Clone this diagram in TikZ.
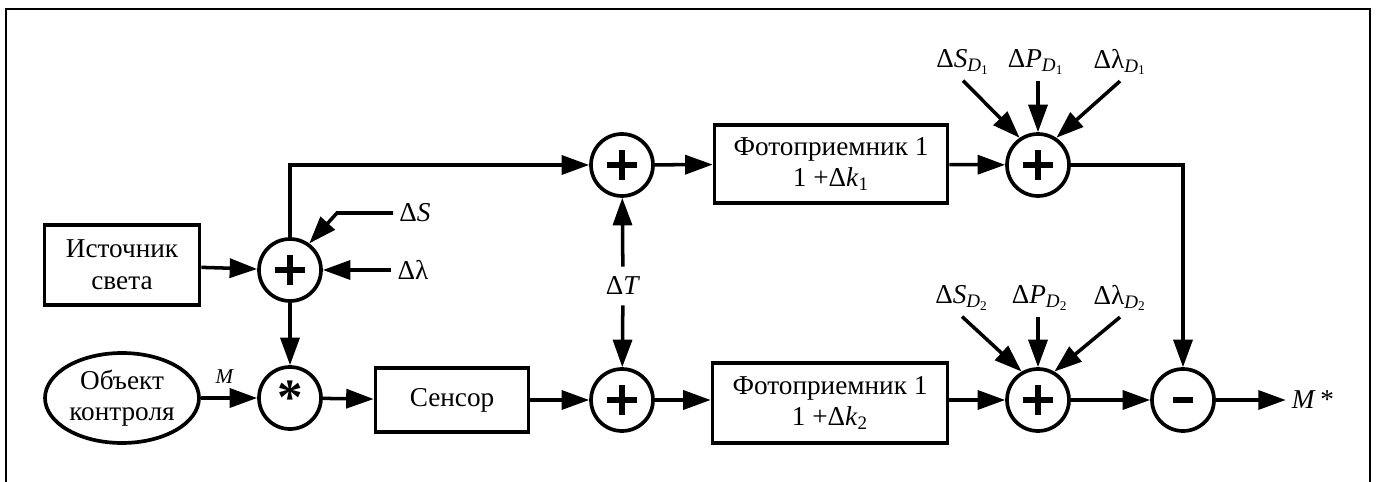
\documentclass[tikz,border=0pt]{standalone}
\usepackage{fontspec}
\setmainfont{Liberation Serif}
\usetikzlibrary{arrows.meta,shapes.geometric}

\begin{document}
\begin{tikzpicture}[x=0.02cm,y=-0.02cm,
  every node/.style={font=\fontsize{15.5}{18}\selectfont},
  blk/.style={draw,rectangle,line width=2.1pt,align=center,inner sep=0pt},
  sumc/.style={draw,circle,line width=2.1pt,minimum size=1.24cm,inner sep=0pt},
  plus/.style={sumc,path picture={
    \draw[line width=2.9pt] (path picture bounding box.center) +(-0.3cm,0) -- +(0.3cm,0)
      (path picture bounding box.center) +(0,-0.3cm) -- +(0,0.3cm);}},
  minus/.style={sumc,path picture={
    \draw[line width=3.3pt] (path picture bounding box.center) +(-0.2cm,0) -- +(0.2cm,0);}},
  arr/.style={line width=2pt,-{Triangle[length=5.5mm,width=3.8mm]}}]
  %%%%% FRAME %%%%%
  \useasboundingbox (0,0) rectangle (1379,482);
  \draw[line width=0.9pt] (6,482) -- (6,9) -- (1370,9) -- (1370,482);

  %%%%% BLOCKS %%%%%
  \node[blk,minimum width=3.1cm,minimum height=1.6cm] (src) at (122,265) {Источник\\света};
  \node[draw,ellipse,line width=2.1pt,inner sep=0pt,align=center,
        minimum width=3.08cm,minimum height=1.8cm] (obj) at (122,398) {Объект\\контроля};
  \node[plus] (s1) at (290,270) {};
  \node[sumc] (mul) at (290,398) {\raisebox{-0.32em}{\fontsize{29}{29}\selectfont\bfseries *}};
  \node[blk,minimum width=3.06cm,minimum height=1.28cm] (sen) at (452,400) {Сенсор};
  \node[plus] (s2) at (622,165) {};
  \node[plus] (s3) at (622,400) {};
  \node[blk,minimum width=4.66cm,minimum height=1.56cm] (pd1) at (831,164)
    {Фотоприемник 1\\1 +Δ\textit{k}\textsubscript{1}};
  \node[blk,minimum width=4.7cm,minimum height=1.6cm] (pd2) at (830,403)
    {Фотоприемник 1\\1 +Δ\textit{k}\textsubscript{2}};
  \node[plus] (d1) at (1038,165) {};
  \node[plus] (d2) at (1038,400) {};
  \node[minus] (mn) at (1183,400) {};

  %%%%% LABELS %%%%%
  \node (lS) at (415,213) {Δ\textit{S}};
  \node (lL) at (413,270) {Δλ};
  \node[font=\fontsize{12}{14}\selectfont] (lM) at (225,377) {\textit{M}};
  \node[inner sep=0pt,minimum height=0.76cm] (dT) at (623,286) {Δ\textit{T}};
  \node (lSD1) at (963,62) {Δ\textit{S}\textsubscript{\textit{D}\textsubscript{1}}};
  \node (lPD1) at (1036,62) {Δ\textit{P}\textsubscript{\textit{D}\textsubscript{1}}};
  \node (lLD1) at (1120,62) {Δλ\textsubscript{\textit{D}\textsubscript{1}}};
  \node (lSD2) at (962,298) {Δ\textit{S}\textsubscript{\textit{D}\textsubscript{2}}};
  \node (lPD2) at (1040,298) {Δ\textit{P}\textsubscript{\textit{D}\textsubscript{2}}};
  \node (lLD2) at (1120,298) {Δλ\textsubscript{\textit{D}\textsubscript{2}}};
  \node (lMo) at (1313,400) {\textit{M}\,*};
  \coordinate (kS) at (337,213);

  %%%%% CONNECTORS %%%%%
  \draw[arr] (src) -- (s1);
  \draw[arr] (lS.west) -- (kS) -- (s1.54);
  \draw[arr] (lL) -- (s1);
  \draw[arr] (s1.north) |- (s2);
  \draw[arr] (s1) -- (mul);
  \draw[arr] (obj) -- (mul);
  \draw[arr] (mul) -- (sen);
  \draw[arr] (sen) -- (s3);
  \draw[arr] (dT) -- (s2);
  \draw[arr] (dT) -- (s3);
  \draw[arr] (s2) -- (pd1);
  \draw[arr] (s3) -- (s3 -| pd2.west);
  \draw[arr] (pd1) -- (d1);
  \draw[arr] (pd2.east |- d2) -- (d2);
  \draw[arr] (lSD1.south) -- (d1.124);
  \draw[arr] (lPD1.south -| d1) -- (d1);
  \draw[arr] (lLD1.south) -- (d1.56);
  \draw[arr] (lSD2.south) -- (d2.120);
  \draw[arr] (lPD2.south -| d2) -- (d2);
  \draw[arr] (lLD2.south) -- (d2.60);
  \draw[arr] (d1) -| (mn);
  \draw[arr] (d2) -- (mn);
  \draw[arr] (mn) -- (lMo);
\end{tikzpicture}
\end{document}
